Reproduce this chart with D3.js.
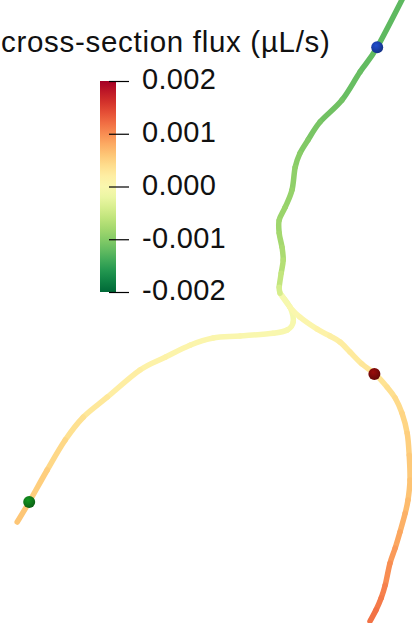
<!DOCTYPE html>
<html>
<head>
<meta charset="utf-8">
<script src="https://cdn.jsdelivr.net/npm/d3@7"></script>
<style>
  html, body { margin: 0; padding: 0; background: #fff; }
  svg { display: block; }
  text { font-family: "Liberation Sans", Arial, sans-serif; fill: #111; }
</style>
</head>
<body>
<div id="chart"></div>
<script>
// Scene coordinates in mm (x to the right, y downwards), flux in µL/s
const topBranch = [
    [10.20, -0.30, -0.00125], [9.43, 1.18, -0.00122], [9.00, 1.80, -0.00120],
    [8.55, 2.50, -0.00115], [8.00, 3.05, -0.00110], [7.70, 3.50, -0.00105],
    [7.50, 3.83, -0.00100], [7.38, 4.18, -0.00096], [7.30, 4.75, -0.00092],
    [7.13, 5.18, -0.00088], [6.98, 5.50, -0.00085], [6.98, 5.83, -0.00082],
    [7.05, 6.18, -0.00078], [7.08, 6.50, -0.00072], [7.03, 6.83, -0.00065],
    [6.98, 7.18, -0.00050], [7.00, 7.33, -0.00035]
];
const leftBranch = [
    [7.00, 7.33, -0.00020], [7.25, 7.68, -0.00010], [7.33, 8.05, -0.00005],
    [7.18, 8.25, -0.00002], [6.83, 8.33, 0.00000], [6.00, 8.40, 0.00003],
    [5.33, 8.45, 0.00005], [4.75, 8.63, 0.00008], [4.13, 8.93, 0.00012],
    [3.50, 9.25, 0.00016], [2.68, 9.93, 0.00025], [2.08, 10.43, 0.00032],
    [1.63, 11.00, 0.00040], [1.18, 11.75, 0.00050], [0.73, 12.55, 0.00058],
    [0.43, 13.05, 0.00062]
];
const rightBranch = [
    [7.00, 7.33, -0.00010], [7.25, 7.68, 0.00000], [7.50, 7.93, 0.00005],
    [7.93, 8.23, 0.00011], [8.25, 8.40, 0.00016],
    [8.50, 8.55, 0.00020], [8.75, 8.80, 0.00024], [9.05, 9.10, 0.00028],
    [9.38, 9.35, 0.00032], [9.68, 9.68, 0.00036], [9.88, 9.95, 0.00040],
    [10.05, 10.33, 0.00045], [10.18, 10.83, 0.00050], [10.23, 11.38, 0.00055],
    [10.25, 12.00, 0.00060], [10.20, 12.50, 0.00066], [10.13, 12.83, 0.00072],
    [10.00, 13.30, 0.00080], [9.88, 13.70, 0.00088], [9.75, 14.08, 0.00095],
    [9.63, 14.63, 0.00105], [9.53, 14.95, 0.00110], [9.40, 15.25, 0.00115],
    [9.25, 15.53, 0.00120]
];
// marker spheres
const markers = [
    { name: "inlet", x: 9.43, y: 1.18, color: "#1a3fa8" },
    { name: "outlet 1", x: 9.36, y: 9.35, color: "#7c0a0a" },
    { name: "outlet 2", x: 0.73, y: 12.55, color: "#0f7a1a" }
];
const fluxDomain = [-0.002, 0.002];
const fluxTicks = [0.002, 0.001, 0.000, -0.001, -0.002];
const legendTitle = "cross-section flux (µL/s)";

const width = 412, height = 623;

const svg = d3.select("#chart")
    .append("svg")
    .attr("width", width)
    .attr("height", height);

// mm -> pixel
const x = d3.scaleLinear().domain([0, 10.3]).range([0, width]);
const y = d3.scaleLinear().domain([0, 15.575]).range([0, height]);

// reversed RdYlGn: red for positive, green for negative
const color = d3.scaleSequential(t => d3.interpolateRdYlGn(1 - t)).domain(fluxDomain);

const defs = svg.append("defs");

// smooth piece between p1 and p2 (Catmull-Rom as a cubic bezier)
function piece(p0, p1, p2, p3) {
    const c1 = [p1[0] + (p2[0] - p0[0]) / 6, p1[1] + (p2[1] - p0[1]) / 6];
    const c2 = [p2[0] - (p3[0] - p1[0]) / 6, p2[1] - (p3[1] - p1[1]) / 6];
    return `M${p1[0]},${p1[1]}C${c1[0]},${c1[1]} ${c2[0]},${c2[1]} ${p2[0]},${p2[1]}`;
}

// Draw vessel branches as short coloured pieces
const vessels = svg.append("g").attr("class", "vessels");
[leftBranch, rightBranch, topBranch].forEach(branch => {
    const pts = branch.map(d => [x(d[0]), y(d[1])]);
    const segs = d3.range(branch.length - 1).map(i => ({
        d: piece(pts[Math.max(0, i - 1)], pts[i], pts[i + 1], pts[Math.min(pts.length - 1, i + 2)]),
        flux: (branch[i][2] + branch[i + 1][2]) / 2
    }));
    vessels.selectAll(null)
        .data(segs)
        .enter().append("path")
        .attr("d", d => d.d)
        .attr("fill", "none")
        .attr("stroke", d => color(d.flux))
        .attr("stroke-width", 5.5)
        .attr("stroke-linecap", "round");
});

// Marker spheres with a little shading
markers.forEach((m, i) => {
    const g = defs.append("radialGradient")
        .attr("id", "sph" + i)
        .attr("cx", "40%").attr("cy", "35%").attr("r", "65%");
    g.append("stop").attr("offset", "0%").attr("stop-color", d3.color(m.color).brighter(0.6));
    g.append("stop").attr("offset", "100%").attr("stop-color", d3.color(m.color).darker(0.6));
});
svg.append("g").selectAll("circle")
    .data(markers)
    .enter().append("circle")
    .attr("cx", d => x(d.x))
    .attr("cy", d => y(d.y))
    .attr("r", 6)
    .attr("fill", (d, i) => `url(#sph${i})`);

// Colour legend
const barX = 100, barW = 16;
const legendY = d3.scaleLinear().domain(fluxDomain).range([292, 81]);

const grad = defs.append("linearGradient")
    .attr("id", "fluxGrad")
    .attr("x1", "0%").attr("y1", "100%").attr("x2", "0%").attr("y2", "0%");
d3.range(0, 1.0001, 0.05).forEach(t => {
    grad.append("stop")
        .attr("offset", (t * 100) + "%")
        .attr("stop-color", color(fluxDomain[0] + t * (fluxDomain[1] - fluxDomain[0])));
});

const legend = svg.append("g").attr("class", "legend");
legend.append("rect")
    .attr("x", barX)
    .attr("y", legendY(fluxDomain[1]))
    .attr("width", barW)
    .attr("height", legendY(fluxDomain[0]) - legendY(fluxDomain[1]))
    .attr("fill", "url(#fluxGrad)");

const axis = d3.axisRight(legendY)
    .tickValues(fluxTicks)
    .tickFormat(d3.format(".3f"))
    .tickSize(20)
    .tickPadding(13);

const axisG = legend.append("g")
    .attr("transform", `translate(${barX + 9},0)`)
    .call(axis);
axisG.select(".domain").remove();
axisG.selectAll(".tick line").attr("stroke", "#000").attr("stroke-width", 1.2);
axisG.selectAll(".tick text")
    .attr("dy", "0.27em")
    .attr("fill", "#111")
    .style("font-family", "'Liberation Sans', Arial, sans-serif")
    .style("font-size", "29px")
    .style("letter-spacing", "0.3px")
    .text(d => d3.format(".3f")(d).replace("−", "-"));

legend.append("text")
    .attr("x", 1)
    .attr("y", 52)
    .style("font-size", "29.5px")
    .style("letter-spacing", "0.7px")
    .text(legendTitle);
</script>
</body>
</html>
